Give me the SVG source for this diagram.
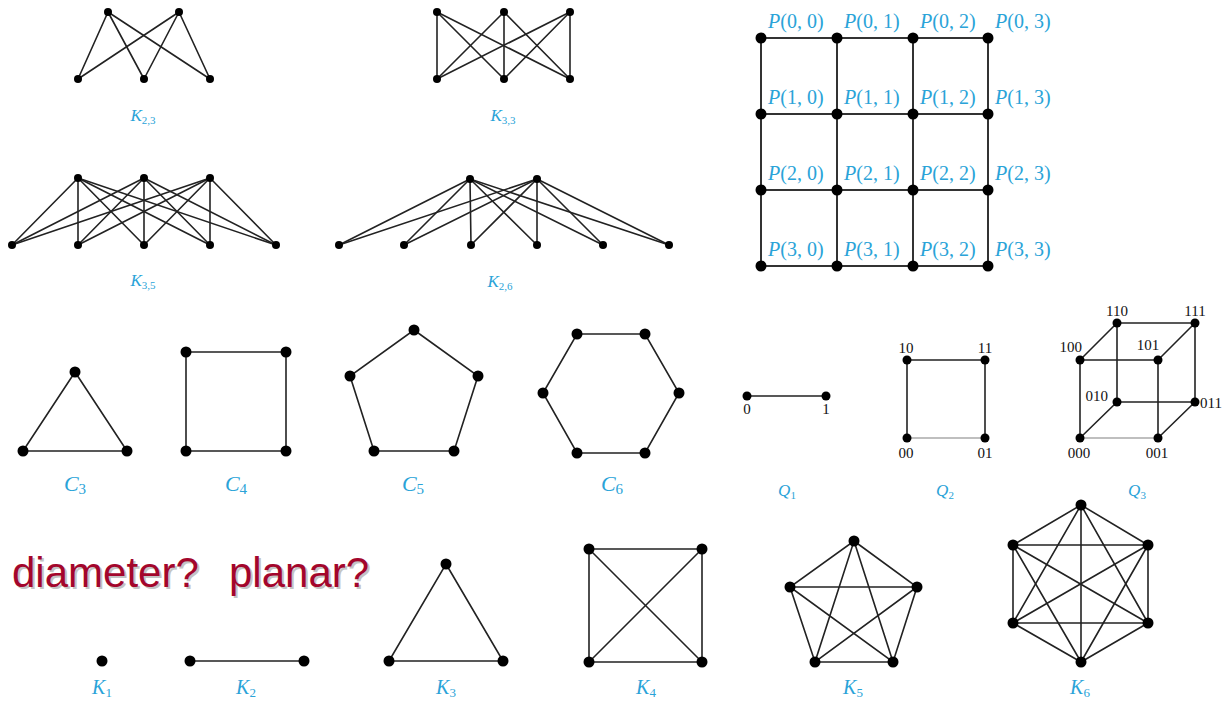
<svg xmlns="http://www.w3.org/2000/svg" width="1226" height="704" viewBox="0 0 1226 704">
<style>
.e{stroke:#222;stroke-width:1.6;fill:none;stroke-linecap:round}
.g{stroke:#333;stroke-width:2;fill:none}
.lt{stroke:#aaa;stroke-width:1.4}
.n{fill:#000}
.lbl{font-family:"Liberation Serif",serif;fill:#2aa3d8;text-anchor:middle}
.it{font-style:italic}
.p{font-family:"Liberation Serif",serif;fill:#2aa3d8;font-size:20px}
.d{font-family:"Liberation Serif",serif;fill:#111;font-size:15px}
.big{font-family:"Liberation Sans",Arial,sans-serif;font-size:42px}
</style>
<rect width="1226" height="704" fill="#fff"/>

<g id="connectors">
 <!-- K2,3 -->
 <g id="e-K23" class="e">
  <line x1="108" y1="12" x2="78" y2="79"/><line x1="108" y1="12" x2="144" y2="79"/><line x1="108" y1="12" x2="210" y2="79"/>
  <line x1="179" y1="12" x2="78" y2="79"/><line x1="179" y1="12" x2="144" y2="79"/><line x1="179" y1="12" x2="210" y2="79"/>
 </g>
 <!-- K3,3 -->
 <g id="e-K33" class="e">
  <line x1="437" y1="12" x2="437" y2="79"/><line x1="437" y1="12" x2="504" y2="79"/><line x1="437" y1="12" x2="570" y2="79"/>
  <line x1="504" y1="12" x2="437" y2="79"/><line x1="504" y1="12" x2="504" y2="79"/><line x1="504" y1="12" x2="570" y2="79"/>
  <line x1="570" y1="12" x2="437" y2="79"/><line x1="570" y1="12" x2="504" y2="79"/><line x1="570" y1="12" x2="570" y2="79"/>
 </g>
 <!-- K3,5 -->
 <g id="e-K35" class="e">
  <line x1="78" y1="178" x2="12" y2="245"/><line x1="78" y1="178" x2="78" y2="245"/><line x1="78" y1="178" x2="144" y2="245"/><line x1="78" y1="178" x2="210" y2="245"/><line x1="78" y1="178" x2="276" y2="245"/>
  <line x1="144" y1="178" x2="12" y2="245"/><line x1="144" y1="178" x2="78" y2="245"/><line x1="144" y1="178" x2="144" y2="245"/><line x1="144" y1="178" x2="210" y2="245"/><line x1="144" y1="178" x2="276" y2="245"/>
  <line x1="210" y1="178" x2="12" y2="245"/><line x1="210" y1="178" x2="78" y2="245"/><line x1="210" y1="178" x2="144" y2="245"/><line x1="210" y1="178" x2="210" y2="245"/><line x1="210" y1="178" x2="276" y2="245"/>
 </g>
 <!-- K2,6 -->
 <g id="e-K26" class="e">
  <line x1="470" y1="179" x2="339" y2="245"/><line x1="470" y1="179" x2="404" y2="245"/><line x1="470" y1="179" x2="471" y2="245"/><line x1="470" y1="179" x2="537" y2="245"/><line x1="470" y1="179" x2="603" y2="245"/><line x1="470" y1="179" x2="669" y2="245"/>
  <line x1="537" y1="179" x2="339" y2="245"/><line x1="537" y1="179" x2="404" y2="245"/><line x1="537" y1="179" x2="471" y2="245"/><line x1="537" y1="179" x2="537" y2="245"/><line x1="537" y1="179" x2="603" y2="245"/><line x1="537" y1="179" x2="669" y2="245"/>
 </g>
 <!-- Grid -->
 <g id="e-grid" class="g">
  <line x1="761" y1="38" x2="988" y2="38"/><line x1="761" y1="114" x2="988" y2="114"/><line x1="761" y1="190" x2="988" y2="190"/><line x1="761" y1="266" x2="988" y2="266"/>
  <line x1="761" y1="38" x2="761" y2="266"/><line x1="837" y1="38" x2="837" y2="266"/><line x1="913" y1="38" x2="913" y2="266"/><line x1="988" y1="38" x2="988" y2="266"/>
 </g>
 <!-- Cycles -->
 <g id="e-C" class="e">
  <polygon points="75,372 127,451 23,451"/>
  <polygon points="186,352 286,352 286,451 186,451"/>
  <polygon points="414,330 478,376 454,451 374,451 350,376"/>
  <polygon points="577,334 645,334 679,393 645,453 577,453 543,393"/>
 </g>
 <!-- Q graphs -->
 <g id="e-Q" class="e">
  <line x1="747" y1="396" x2="826" y2="396"/>
  <line x1="907" y1="360" x2="985" y2="360"/><line x1="907" y1="360" x2="907" y2="438"/><line x1="985" y1="360" x2="985" y2="438"/>
  <line x1="1080" y1="360" x2="1158" y2="360"/><line x1="1080" y1="360" x2="1080" y2="438"/><line x1="1158" y1="360" x2="1158" y2="438"/>
  <line x1="1117" y1="323" x2="1195" y2="323"/><line x1="1117" y1="323" x2="1117" y2="402"/><line x1="1195" y1="323" x2="1195" y2="402"/><line x1="1117" y1="402" x2="1195" y2="402"/>
  <line x1="1080" y1="360" x2="1117" y2="323"/><line x1="1158" y1="360" x2="1195" y2="323"/><line x1="1080" y1="438" x2="1117" y2="402"/><line x1="1158" y1="438" x2="1195" y2="402"/>
 </g>
 <g id="e-Q-light" class="lt">
  <line x1="907" y1="438" x2="985" y2="438"/>
  <line x1="1080" y1="438" x2="1158" y2="438"/>
 </g>
 <!-- Complete graphs -->
 <g id="e-K" class="e">
  <line x1="190" y1="661" x2="304" y2="661"/>
  <polygon points="446,564 503,661 389,661"/>
  <polygon points="589,549 702,549 702,662 589,662"/>
  <line x1="589" y1="549" x2="702" y2="662"/><line x1="702" y1="549" x2="589" y2="662"/>
  <polygon points="854,541 917,587 893,662 815,662 790,587"/>
  <polygon points="854,541 893,662 790,587 917,587 815,662"/>
  <polygon points="1081,505 1148,545 1148,623 1081,662 1013,623 1013,545"/>
  <line x1="1081" y1="505" x2="1148" y2="623"/><line x1="1081" y1="505" x2="1081" y2="662"/><line x1="1081" y1="505" x2="1013" y2="623"/>
  <line x1="1148" y1="545" x2="1081" y2="662"/><line x1="1148" y1="545" x2="1013" y2="623"/><line x1="1148" y1="545" x2="1013" y2="545"/>
  <line x1="1148" y1="623" x2="1013" y2="623"/><line x1="1148" y1="623" x2="1013" y2="545"/>
  <line x1="1081" y1="662" x2="1013" y2="545"/>
 </g>
</g>

<g id="K23">
 <circle class="n" cx="108" cy="12" r="4"/><circle class="n" cx="179" cy="12" r="4"/>
 <circle class="n" cx="78" cy="79" r="4"/><circle class="n" cx="144" cy="79" r="4"/><circle class="n" cx="210" cy="79" r="4"/>
 <text class="lbl" x="143" y="121" font-size="17"><tspan class="it">K</tspan><tspan font-size="11" dy="3">2,3</tspan></text>
</g>
<g id="K33">
 <circle class="n" cx="437" cy="12" r="4"/><circle class="n" cx="504" cy="12" r="4"/><circle class="n" cx="570" cy="12" r="4"/>
 <circle class="n" cx="437" cy="79" r="4"/><circle class="n" cx="504" cy="79" r="4"/><circle class="n" cx="570" cy="79" r="4"/>
 <text class="lbl" x="503" y="121" font-size="17"><tspan class="it">K</tspan><tspan font-size="11" dy="3">3,3</tspan></text>
</g>
<g id="K35">
 <circle class="n" cx="78" cy="178" r="4"/><circle class="n" cx="144" cy="178" r="4"/><circle class="n" cx="210" cy="178" r="4"/>
 <circle class="n" cx="12" cy="245" r="4"/><circle class="n" cx="78" cy="245" r="4"/><circle class="n" cx="144" cy="245" r="4"/><circle class="n" cx="210" cy="245" r="4"/><circle class="n" cx="276" cy="245" r="4"/>
 <text class="lbl" x="143" y="286" font-size="17"><tspan class="it">K</tspan><tspan font-size="11" dy="3">3,5</tspan></text>
</g>
<g id="K26">
 <circle class="n" cx="470" cy="179" r="4"/><circle class="n" cx="537" cy="179" r="4"/>
 <circle class="n" cx="339" cy="245" r="4"/><circle class="n" cx="404" cy="245" r="4"/><circle class="n" cx="471" cy="245" r="4"/><circle class="n" cx="537" cy="245" r="4"/><circle class="n" cx="603" cy="245" r="4"/><circle class="n" cx="669" cy="245" r="4"/>
 <text class="lbl" x="500" y="287" font-size="17"><tspan class="it">K</tspan><tspan font-size="11" dy="3">2,6</tspan></text>
</g>

<g id="grid">
 <g class="n">
  <circle cx="761" cy="38" r="5.5"/><circle cx="837" cy="38" r="5.5"/><circle cx="913" cy="38" r="5.5"/><circle cx="988" cy="38" r="5.5"/>
  <circle cx="761" cy="114" r="5.5"/><circle cx="837" cy="114" r="5.5"/><circle cx="913" cy="114" r="5.5"/><circle cx="988" cy="114" r="5.5"/>
  <circle cx="761" cy="190" r="5.5"/><circle cx="837" cy="190" r="5.5"/><circle cx="913" cy="190" r="5.5"/><circle cx="988" cy="190" r="5.5"/>
  <circle cx="761" cy="266" r="5.5"/><circle cx="837" cy="266" r="5.5"/><circle cx="913" cy="266" r="5.5"/><circle cx="988" cy="266" r="5.5"/>
 </g>
 <text class="p" x="768" y="28"><tspan class="it">P</tspan>(0, 0)</text>
 <text class="p" x="844" y="28"><tspan class="it">P</tspan>(0, 1)</text>
 <text class="p" x="920" y="28"><tspan class="it">P</tspan>(0, 2)</text>
 <text class="p" x="995" y="28"><tspan class="it">P</tspan>(0, 3)</text>
 <text class="p" x="768" y="104"><tspan class="it">P</tspan>(1, 0)</text>
 <text class="p" x="844" y="104"><tspan class="it">P</tspan>(1, 1)</text>
 <text class="p" x="920" y="104"><tspan class="it">P</tspan>(1, 2)</text>
 <text class="p" x="995" y="104"><tspan class="it">P</tspan>(1, 3)</text>
 <text class="p" x="768" y="180"><tspan class="it">P</tspan>(2, 0)</text>
 <text class="p" x="844" y="180"><tspan class="it">P</tspan>(2, 1)</text>
 <text class="p" x="920" y="180"><tspan class="it">P</tspan>(2, 2)</text>
 <text class="p" x="995" y="180"><tspan class="it">P</tspan>(2, 3)</text>
 <text class="p" x="768" y="256"><tspan class="it">P</tspan>(3, 0)</text>
 <text class="p" x="844" y="256"><tspan class="it">P</tspan>(3, 1)</text>
 <text class="p" x="920" y="256"><tspan class="it">P</tspan>(3, 2)</text>
 <text class="p" x="995" y="256"><tspan class="it">P</tspan>(3, 3)</text>
</g>

<g id="C3">
 <circle class="n" cx="75" cy="372" r="5.5"/><circle class="n" cx="23" cy="451" r="5.5"/><circle class="n" cx="127" cy="451" r="5.5"/>
 <text class="lbl" x="75" y="491" font-size="22"><tspan class="it">C</tspan><tspan font-size="15" dy="3">3</tspan></text>
</g>
<g id="C4">
 <circle class="n" cx="186" cy="352" r="5.5"/><circle class="n" cx="286" cy="352" r="5.5"/><circle class="n" cx="286" cy="451" r="5.5"/><circle class="n" cx="186" cy="451" r="5.5"/>
 <text class="lbl" x="236" y="491" font-size="22"><tspan class="it">C</tspan><tspan font-size="15" dy="3">4</tspan></text>
</g>
<g id="C5">
 <circle class="n" cx="414" cy="330" r="5.5"/><circle class="n" cx="478" cy="376" r="5.5"/><circle class="n" cx="454" cy="451" r="5.5"/><circle class="n" cx="374" cy="451" r="5.5"/><circle class="n" cx="350" cy="376" r="5.5"/>
 <text class="lbl" x="413" y="491" font-size="22"><tspan class="it">C</tspan><tspan font-size="15" dy="3">5</tspan></text>
</g>
<g id="C6">
 <circle class="n" cx="577" cy="334" r="5.5"/><circle class="n" cx="645" cy="334" r="5.5"/><circle class="n" cx="679" cy="393" r="5.5"/><circle class="n" cx="645" cy="453" r="5.5"/><circle class="n" cx="577" cy="453" r="5.5"/><circle class="n" cx="543" cy="393" r="5.5"/>
 <text class="lbl" x="612" y="491" font-size="22"><tspan class="it">C</tspan><tspan font-size="15" dy="3">6</tspan></text>
</g>

<g id="Q1">
 <circle class="n" cx="747" cy="396" r="4.5"/><circle class="n" cx="826" cy="396" r="4.5"/>
 <text class="d" x="747" y="414" text-anchor="middle">0</text>
 <text class="d" x="826" y="414" text-anchor="middle">1</text>
 <text class="lbl" x="787" y="496" font-size="17"><tspan class="it">Q</tspan><tspan font-size="11" dy="3">1</tspan></text>
</g>
<g id="Q2">
 <circle class="n" cx="907" cy="360" r="4.5"/><circle class="n" cx="985" cy="360" r="4.5"/><circle class="n" cx="907" cy="438" r="4.5"/><circle class="n" cx="985" cy="438" r="4.5"/>
 <text class="d" x="906" y="353" text-anchor="middle">10</text>
 <text class="d" x="985" y="353" text-anchor="middle">11</text>
 <text class="d" x="906" y="458" text-anchor="middle">00</text>
 <text class="d" x="985" y="458" text-anchor="middle">01</text>
 <text class="lbl" x="945" y="496" font-size="17"><tspan class="it">Q</tspan><tspan font-size="11" dy="3">2</tspan></text>
</g>
<g id="Q3">
 <g class="n">
  <circle cx="1080" cy="360" r="4.5"/><circle cx="1158" cy="360" r="4.5"/><circle cx="1080" cy="438" r="4.5"/><circle cx="1158" cy="438" r="4.5"/>
  <circle cx="1117" cy="323" r="4.5"/><circle cx="1195" cy="323" r="4.5"/><circle cx="1117" cy="402" r="4.5"/><circle cx="1195" cy="402" r="4.5"/>
 </g>
 <text class="d" x="1117" y="316" text-anchor="middle">110</text>
 <text class="d" x="1195" y="316" text-anchor="middle">111</text>
 <text class="d" x="1082" y="352" text-anchor="end">100</text>
 <text class="d" x="1148" y="350" text-anchor="middle">101</text>
 <text class="d" x="1108" y="401" text-anchor="end">010</text>
 <text class="d" x="1200" y="408">011</text>
 <text class="d" x="1079" y="458" text-anchor="middle">000</text>
 <text class="d" x="1157" y="458" text-anchor="middle">001</text>
 <text class="lbl" x="1137" y="496" font-size="17"><tspan class="it">Q</tspan><tspan font-size="11" dy="3">3</tspan></text>
</g>

<g id="question">
 <text class="big" fill="#c4c4c4" y="589"><tspan x="14">diameter?</tspan><tspan x="231">planar?</tspan></text>
 <text class="big" fill="#a3062c" y="587"><tspan x="12">diameter?</tspan><tspan x="229">planar?</tspan></text>
</g>

<g id="K1">
 <circle class="n" cx="102" cy="661" r="5.5"/>
 <text class="lbl" x="102" y="694" font-size="20"><tspan class="it">K</tspan><tspan font-size="13" dy="3">1</tspan></text>
</g>
<g id="K2">
 <circle class="n" cx="190" cy="661" r="5.5"/><circle class="n" cx="304" cy="661" r="5.5"/>
 <text class="lbl" x="246" y="694" font-size="20"><tspan class="it">K</tspan><tspan font-size="13" dy="3">2</tspan></text>
</g>
<g id="K3">
 <circle class="n" cx="446" cy="564" r="5.5"/><circle class="n" cx="389" cy="661" r="5.5"/><circle class="n" cx="503" cy="661" r="5.5"/>
 <text class="lbl" x="446" y="694" font-size="20"><tspan class="it">K</tspan><tspan font-size="13" dy="3">3</tspan></text>
</g>
<g id="K4">
 <circle class="n" cx="589" cy="549" r="5.5"/><circle class="n" cx="702" cy="549" r="5.5"/><circle class="n" cx="702" cy="662" r="5.5"/><circle class="n" cx="589" cy="662" r="5.5"/>
 <text class="lbl" x="646" y="694" font-size="20"><tspan class="it">K</tspan><tspan font-size="13" dy="3">4</tspan></text>
</g>
<g id="K5">
 <circle class="n" cx="854" cy="541" r="5.5"/><circle class="n" cx="917" cy="587" r="5.5"/><circle class="n" cx="893" cy="662" r="5.5"/><circle class="n" cx="815" cy="662" r="5.5"/><circle class="n" cx="790" cy="587" r="5.5"/>
 <text class="lbl" x="853" y="694" font-size="20"><tspan class="it">K</tspan><tspan font-size="13" dy="3">5</tspan></text>
</g>
<g id="K6">
 <circle class="n" cx="1081" cy="505" r="5.5"/><circle class="n" cx="1148" cy="545" r="5.5"/><circle class="n" cx="1148" cy="623" r="5.5"/><circle class="n" cx="1081" cy="662" r="5.5"/><circle class="n" cx="1013" cy="623" r="5.5"/><circle class="n" cx="1013" cy="545" r="5.5"/>
 <text class="lbl" x="1080" y="694" font-size="20"><tspan class="it">K</tspan><tspan font-size="13" dy="3">6</tspan></text>
</g>
</svg>
